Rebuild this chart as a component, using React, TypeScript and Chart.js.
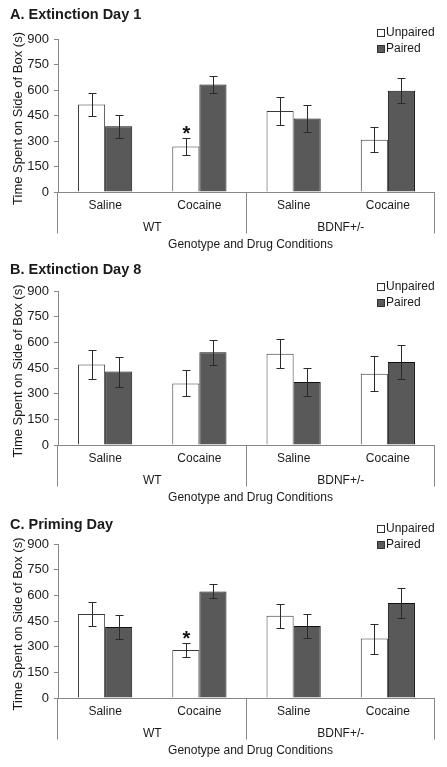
import React, { useEffect, useRef } from "react";
import { Chart, registerables } from "chart.js";

Chart.register(...registerables);

// ---- data ----
const categories = ["Saline", "Cocaine", "Saline", "Cocaine"];
const genotypes = ["WT", "BDNF+/-"];
const seriesNames = ["Unpaired", "Paired"];
const yTickStep = 150;
const yMax = 900;

const day1Unpaired = [515, 267, 476, 308];
const day1UnpairedErr = [67, 52, 80, 73];
const day1Paired = [387, 633, 432, 595];
const day1PairedErr = [67, 51, 80, 74];
const day1Stars = ["", "*", "", ""];

const day8Unpaired = [471, 360, 534, 417];
const day8UnpairedErr = [87, 76, 84, 101];
const day8Paired = [429, 542, 368, 485];
const day8PairedErr = [88, 73, 84, 99];
const day8Stars = ["", "", "", ""];

const primeUnpaired = [491, 281, 481, 347];
const primeUnpairedErr = [68, 40, 70, 87];
const primePaired = [415, 623, 421, 555];
const primePairedErr = [71, 41, 71, 87];
const primeStars = ["", "*", "", ""];

const titles = ["A. Extinction Day 1", "B. Extinction Day 8", "C. Priming Day"];
const yTitle = "Time Spent on Side of Box (s)";
const xTitle = "Genotype and Drug Conditions";

// ---- styles ----
const FONT = "'Liberation Sans', Arial, sans-serif";
const AXIS = "#868686";
const TEXT = "#1a1a1a";
const PAIRED = "#595959";

type PanelProps = {
  height: number;
  top: number;
  bottom: number;
  legendY: number;
  title: string;
  unpaired: number[];
  unpairedErr: number[];
  paired: number[];
  pairedErr: number[];
  stars: string[];
};

function Panel(p: PanelProps) {
  const ref = useRef<HTMLCanvasElement | null>(null);
  useEffect(() => {
    if (!ref.current) return;
    const decor = {
      id: "decor",
      afterDatasetsDraw(chart: any) {
        const ctx = chart.ctx;
        const ys = chart.scales.y;
        const xs = chart.scales.x;
        const ca = chart.chartArea;
        ctx.save();
        // error bars
        chart.data.datasets.forEach((ds: any, di: number) => {
          const meta = chart.getDatasetMeta(di);
          meta.data.forEach((bar: any, i: number) => {
            const v = ds.data[i];
            const e = ds.errors[i];
            const yt = Math.round(ys.getPixelForValue(v + e)) + 0.5;
            const yb = Math.round(ys.getPixelForValue(v - e)) + 0.5;
            const x = Math.round(bar.x) + 0.5;
            ctx.strokeStyle = "#2a2a2a";
            ctx.lineWidth = 1;
            ctx.beginPath();
            ctx.moveTo(x, yt);
            ctx.lineTo(x, yb);
            ctx.moveTo(x - 4, yt);
            ctx.lineTo(x + 4, yt);
            ctx.moveTo(x - 4, yb);
            ctx.lineTo(x + 4, yb);
            ctx.stroke();
            if (ds.stars && ds.stars[i]) {
              ctx.fillStyle = "#111";
              ctx.font = `bold 20px ${FONT}`;
              ctx.textAlign = "center";
              ctx.textBaseline = "middle";
              ctx.fillText(ds.stars[i], x, yt - 4);
            }
          });
        });
        // x axis and separators
        ctx.strokeStyle = AXIS;
        ctx.lineWidth = 1;
        const by = Math.round(ca.bottom) + 0.5;
        ctx.beginPath();
        ctx.moveTo(ca.left, by);
        ctx.lineTo(ca.right, by);
        const mid = (xs.getPixelForValue(1) + xs.getPixelForValue(2)) / 2;
        [ca.left, mid, ca.right].forEach((sx: number) => {
          const x = Math.round(sx) - 0.5;
          ctx.moveTo(x, by);
          ctx.lineTo(x, by + 41);
        });
        ctx.stroke();
        // category labels
        ctx.fillStyle = TEXT;
        ctx.font = `12px ${FONT}`;
        ctx.textAlign = "center";
        ctx.textBaseline = "middle";
        categories.forEach((c, i) => {
          ctx.fillText(c, xs.getPixelForValue(i), ca.bottom + 14);
        });
        genotypes.forEach((g, gi) => {
          const cx = (xs.getPixelForValue(gi * 2) + xs.getPixelForValue(gi * 2 + 1)) / 2;
          ctx.fillText(g, cx, ca.bottom + 36);
        });
        ctx.fillText(xTitle, (ca.left + ca.right) / 2 + 4, ca.bottom + 53);
        // y title
        ctx.save();
        ctx.font = `13px ${FONT}`;
        ctx.translate(18, (ca.top + ca.bottom) / 2 + 3);
        ctx.rotate(-Math.PI / 2);
        ctx.fillText(yTitle, 0, 0);
        ctx.restore();
        // panel title
        ctx.font = `bold 14.5px ${FONT}`;
        ctx.textAlign = "left";
        ctx.fillText(p.title, 10, 15);
        // legend
        ctx.font = `12px ${FONT}`;
        const ly = p.legendY;
        chart.data.datasets.forEach((ds: any, di: number) => {
          const y = ly + di * 16;
          ctx.fillStyle = ds.backgroundColor;
          ctx.fillRect(377.5, y - 3.5, 7, 7);
          ctx.strokeStyle = "#333";
          ctx.strokeRect(377.5, y - 3.5, 7, 7);
          ctx.fillStyle = TEXT;
          ctx.fillText(ds.label, 386, y);
        });
        ctx.restore();
      },
    };

    const chart = new Chart(ref.current, {
      type: "bar",
      data: {
        labels: categories,
        datasets: [
          {
            label: seriesNames[0],
            data: p.unpaired,
            errors: p.unpairedErr,
            stars: p.stars,
            backgroundColor: "#ffffff",
            borderColor: "#3a3a3a",
            borderWidth: 1,
            categoryPercentage: 0.575,
            barPercentage: 1.0,
          } as any,
          {
            label: seriesNames[1],
            data: p.paired,
            errors: p.pairedErr,
            backgroundColor: PAIRED,
            borderColor: "#111111",
            borderWidth: 1,
            categoryPercentage: 0.575,
            barPercentage: 1.0,
          } as any,
        ],
      },
      options: {
        responsive: false,
        animation: false,
        layout: { padding: { left: 0, right: 12, top: p.top, bottom: p.height - p.bottom } },
        plugins: {
          legend: { display: false },
          title: { display: false },
          tooltip: { enabled: false },
        },
        scales: {
          x: { display: false, offset: true },
          y: {
            min: 0,
            max: yMax,
            afterFit: (s: any) => {
              s.width = 58;
            },
            ticks: { stepSize: yTickStep, font: { family: FONT, size: 13 }, color: TEXT, padding: 5 },
            grid: { drawOnChartArea: false, drawTicks: true, tickLength: 4, color: AXIS },
            border: { color: AXIS },
          },
        },
      } as any,
      plugins: [decor],
    });
    return () => chart.destroy();
  }, []);
  return <canvas ref={ref} width={447} height={p.height} style={{ display: "block", width: 447, height: p.height }} />;
}

export default function App() {
  return (
    <div style={{ position: "absolute", left: 0, top: 0, width: 447, height: 767, background: "#fff" }}>
      <Panel height={255} top={39} bottom={192} legendY={33} title={titles[0]}
        unpaired={day1Unpaired} unpairedErr={day1UnpairedErr} paired={day1Paired} pairedErr={day1PairedErr} stars={day1Stars} />
      <Panel height={255} top={36} bottom={190} legendY={32} title={titles[1]}
        unpaired={day8Unpaired} unpairedErr={day8UnpairedErr} paired={day8Paired} pairedErr={day8PairedErr} stars={day8Stars} />
      <Panel height={257} top={34} bottom={188} legendY={19} title={titles[2]}
        unpaired={primeUnpaired} unpairedErr={primeUnpairedErr} paired={primePaired} pairedErr={primePairedErr} stars={primeStars} />
    </div>
  );
}
